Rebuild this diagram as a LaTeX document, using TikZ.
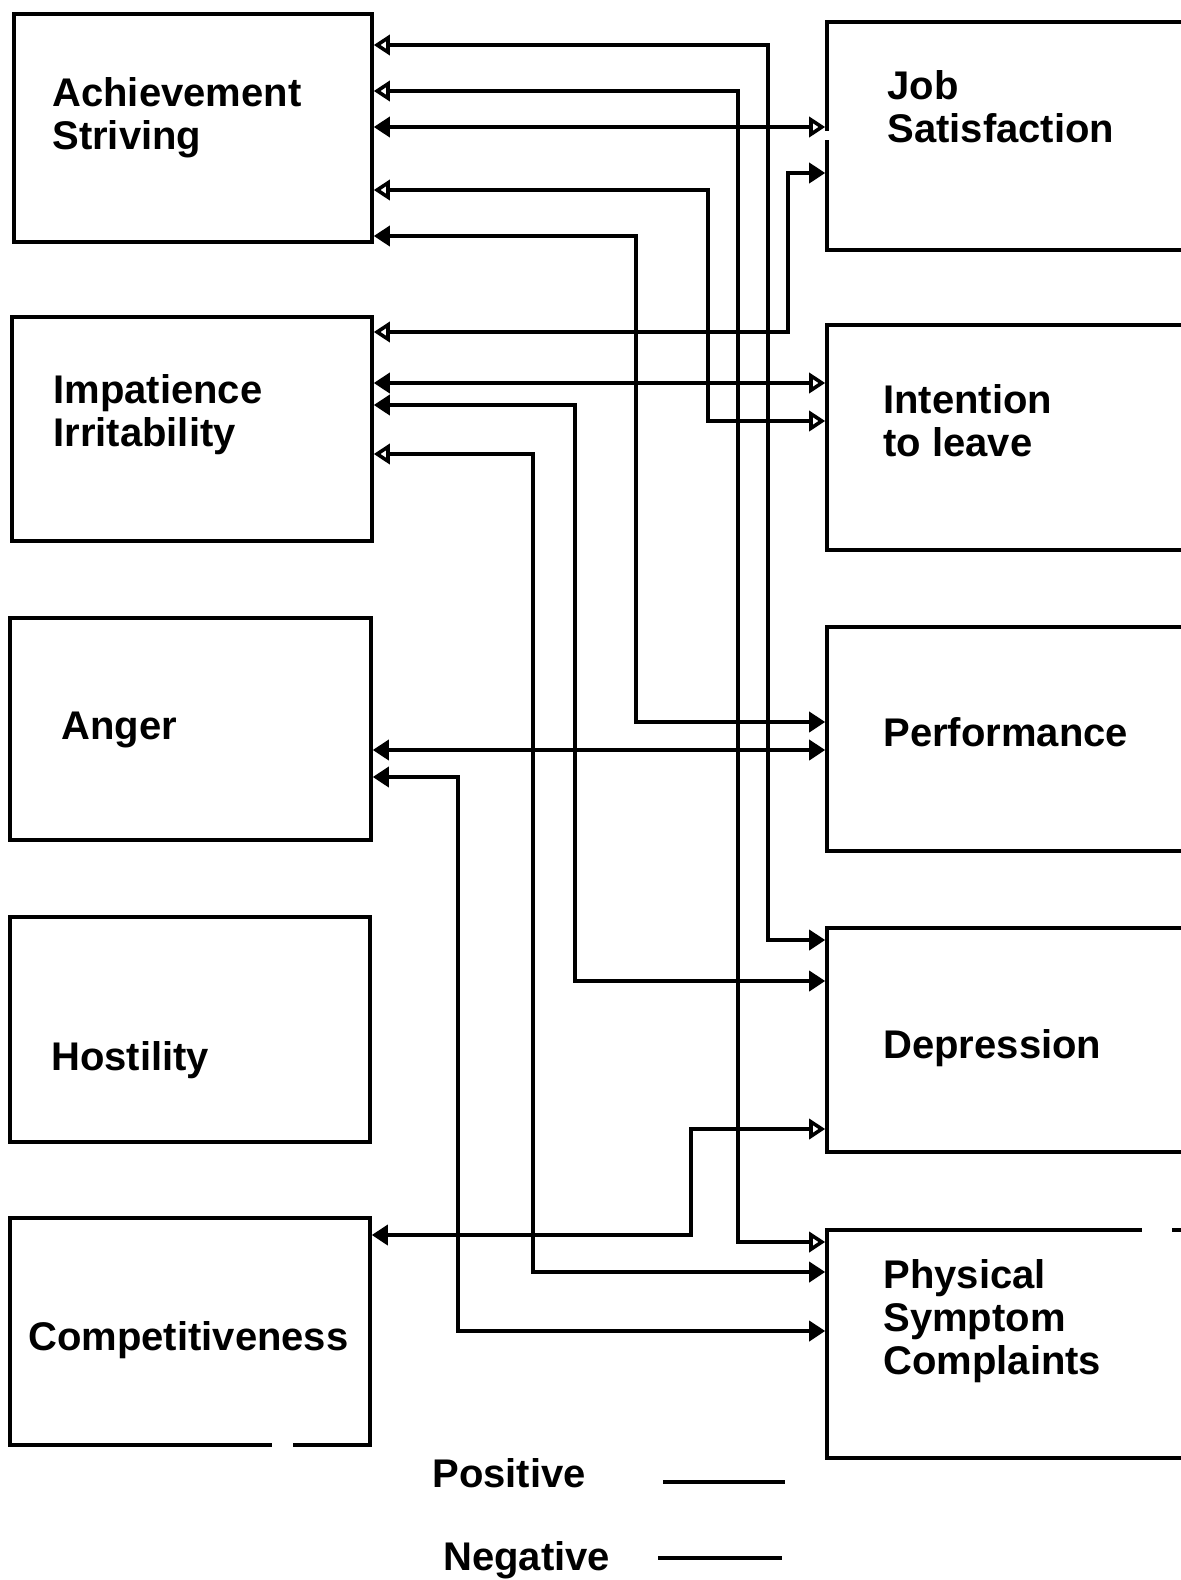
\documentclass[tikz,border=0pt]{standalone}
\usepackage{fontspec}
\setmainfont{Liberation Sans}
\usetikzlibrary{arrows.meta}
\tikzset{
  Opn/.tip={Triangle[open, length=8pt, width=10pt]},
  Fil/.tip={Triangle[length=8pt, width=10pt]},
  box/.style={draw, rectangle, line width=1.8pt, inner sep=0pt},
  lbl/.style={anchor=base west, inner sep=0pt, align=left,
    font=\fontsize{20pt}{21.5pt}\selectfont\bfseries},
  link/.style={line width=1.8pt, line join=miter},
  gap/.style={white, line width=3pt},
}
\begin{document}
\begin{tikzpicture}[x=0.5pt, y=-0.5pt]
\useasboundingbox (0,0) rectangle (1181,1580);
\clip (0,0) rectangle (1181,1580);

% personality components (left column)
\node[box, minimum width=179pt, minimum height=114pt]   (AS) at (193,128)    {};
\node[box, minimum width=180pt, minimum height=112pt]   (II) at (192,429)    {};
\node[box, minimum width=180.5pt, minimum height=111pt] (AN) at (190.5,729)  {};
\node[box, minimum width=180pt, minimum height=112.5pt] (HO) at (190,1029.5) {};
\node[box, minimum width=180pt, minimum height=113.5pt] (CO) at (190,1331.5) {};

% outcomes (right column, running off the right edge)
\node[box, minimum width=186.5pt, minimum height=114pt]   (JS) at (1013.5,136)   {};
\node[box, minimum width=186.5pt, minimum height=112.5pt] (IN) at (1013.5,437.5) {};
\node[box, minimum width=186.5pt, minimum height=112pt]   (PE) at (1013.5,739)   {};
\node[box, minimum width=186.5pt, minimum height=112pt]   (DE) at (1013.5,1040)  {};
\node[box, minimum width=186.5pt, minimum height=114pt]   (PH) at (1013.5,1344)  {};

% breaks in the box outlines
\draw[gap] (272,1445) -- (293,1445);
\draw[gap] (827,131) -- (827,140);
\draw[gap] (1142,1230) -- (1172,1230);

% labels (anchored at the baseline of the last line)
\node[lbl] (lAS) at (52,149)  {Achievement\\Striving};
\node[lbl] (lII) at (53,446)  {Impatience\\Irritability};
\node[lbl] (lAN) at (61,739)  {Anger};
\node[lbl] (lHO) at (51,1070) {Hostility};
\node[lbl] (lCO) at (28,1350) {Competitiveness};
\node[lbl] (lJS) at (887,142) {Job\\Satisfaction};
\node[lbl] (lIN) at (883,456) {Intention\\to leave};
\node[lbl] (lPE) at (883,746) {Performance};
\node[lbl] (lDE) at (883,1058) {Depression};
\node[lbl] (lPH) at (883,1374) {Physical\\Symptom\\Complaints};

% relations
\draw[link, Opn-Fil] (AS.east |- 0,45)  -- (768,45)  -- (768,940)  -- (DE.west |- 0,940);
\draw[link, Opn-Opn] (AS.east |- 0,91)  -- (738,91)  -- (738,1242) -- (PH.west |- 0,1242);
\draw[link, Fil-Opn] (AS.east |- 0,127) -- (JS.west |- 0,127);
\draw[link, Opn-Opn] (AS.east |- 0,190) -- (708,190) -- (708,421)  -- (IN.west |- 0,421);
\draw[link, Fil-Fil] (AS.east |- 0,236) -- (636,236) -- (636,722)  -- (PE.west |- 0,722);
\draw[link, Opn-Fil] (II.east |- 0,332) -- (788,332) -- (788,173)  -- (JS.west |- 0,173);
\draw[link, Fil-Opn] (II.east |- 0,383) -- (IN.west |- 0,383);
\draw[link, Fil-Fil] (II.east |- 0,405) -- (575,405) -- (575,981)  -- (DE.west |- 0,981);
\draw[link, Opn-Fil] (II.east |- 0,454) -- (533,454) -- (533,1272) -- (PH.west |- 0,1272);
\draw[link, Fil-Fil] (AN.east |- 0,750) -- (PE.west |- 0,750);
\draw[link, Fil-Fil] (AN.east |- 0,777) -- (458,777) -- (458,1331) -- (PH.west |- 0,1331);
\draw[link, Fil-Opn] (CO.east |- 0,1235) -- (691,1235) -- (691,1129) -- (DE.west |- 0,1129);

% legend
\node[lbl] (lPos) at (432,1487) {Positive};
\node[lbl] (lNeg) at (443,1570) {Negative};
\coordinate (posA) at (663,1482);
\coordinate (posB) at (785,1482);
\coordinate (negA) at (658,1558);
\coordinate (negB) at (782,1558);
\draw[link] (posA) -- (posB);
\draw[link] (negA) -- (negB);
\end{tikzpicture}
\end{document}
